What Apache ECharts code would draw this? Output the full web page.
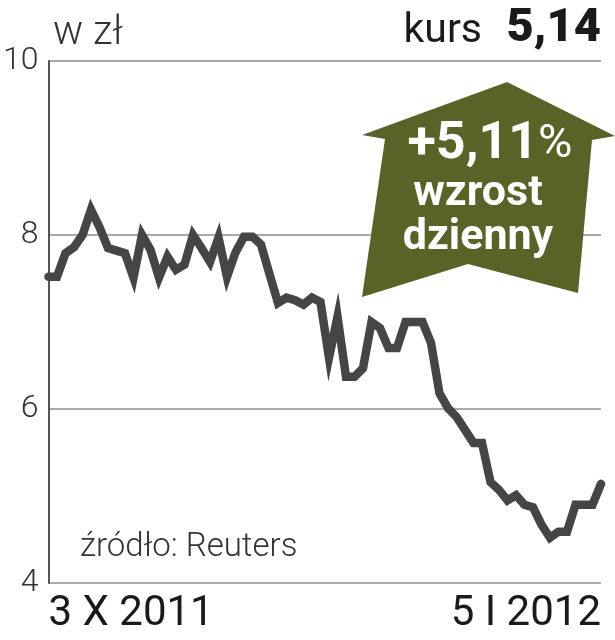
<!DOCTYPE html>
<html>
<head>
<meta charset="utf-8">
<script src="https://cdn.jsdelivr.net/npm/echarts@6/dist/echarts.min.js"></script>
<style>
  html, body { margin: 0; padding: 0; background: #fff; }
  #chart { width: 615px; height: 640px; }
</style>
</head>
<body>
<div id="chart"></div>
<script>
// kurs akcji, 3 X 2011 - 5 I 2012
const prices = [
  7.52, 7.52, 7.79, 7.86, 8.0, 8.29, 8.09, 7.85, 7.82, 7.79,
  7.51, 8.0, 7.83, 7.51, 7.75, 7.6, 7.66, 8.0, 7.85, 7.69,
  7.97, 7.52, 7.8, 7.98, 7.98, 7.89, 7.55, 7.22, 7.28, 7.25,
  7.2, 7.28, 7.23, 6.59, 7.06, 6.37, 6.37, 6.47, 7.0, 6.93,
  6.7, 6.7, 7.0, 7.0, 7.0, 6.76, 6.18, 6.01, 5.91, 5.76,
  5.61, 5.61, 5.16, 5.07, 4.95, 5.01, 4.9, 4.87, 4.67, 4.52,
  4.59, 4.59, 4.9, 4.9, 4.9, 5.14
];
const days = prices.map((v, i) => i);
const tickLabels = ["3 X 2011", "5 I 2012"];
const yTicks = { min: 4, max: 10, step: 2 };
const unitLabel = "w zł";
const lastPrice = "5,14";
const dailyChange = "+5,11";
const sourceLabel = "źródło: Reuters";

const chart = echarts.init(document.getElementById("chart"));

const option = {
  animation: false,
  grid: { left: 48, right: 14, top: 61, bottom: 57, containLabel: false },
  xAxis: {
    type: "category",
    data: days,
    boundaryGap: false,
    axisLine: { show: false },
    axisTick: { show: false },
    splitLine: { show: false },
    axisLabel: {
      interval: 0,
      margin: 10,
      color: "#1a1a1a",
      fontFamily: "Roboto",
      fontWeight: 400,
      fontSize: 42,
      alignMinLabel: "left",
      alignMaxLabel: "right",
      formatter: function (value, index) {
        if (index === 0) return tickLabels[0];
        if (index === days.length - 1) return tickLabels[1];
        return "";
      }
    }
  },
  yAxis: {
    type: "value",
    min: yTicks.min,
    max: yTicks.max,
    interval: yTicks.step,
    axisLine: { show: true, lineStyle: { color: "#555", width: 2 } },
    axisTick: { show: false },
    splitLine: { lineStyle: { color: "#aaa", width: 2 } },
    axisLabel: {
      margin: 10,
      color: "#333",
      fontFamily: "Roboto",
      fontWeight: 300,
      fontSize: 32
    }
  },
  series: [
    {
      type: "line",
      data: prices,
      showSymbol: false,
      lineStyle: { color: "#454545", width: 8.5, join: "miter", cap: "round" },
      z: 3
    }
  ],
  graphic: [
    {
      type: "text",
      left: 53,
      top: 14,
      style: {
        text: unitLabel,
        fill: "#333",
        font: "300 40px Roboto"
      }
    },
    {
      type: "text",
      x: 482,
      y: 52,
      style: {
        text: "kurs",
        align: "right",
        verticalAlign: "bottom",
        fill: "#1a1a1a",
        font: "400 41px Roboto"
      }
    },
    {
      type: "text",
      x: 601,
      y: 53,
      style: {
        text: lastPrice,
        align: "right",
        verticalAlign: "bottom",
        fill: "#1a1a1a",
        font: "900 47px Roboto"
      }
    },
    {
      type: "polygon",
      z: 10,
      shape: {
        points: [
          [507, 82], [615, 136], [592, 140], [578, 293], [468, 264],
          [362, 297], [385, 139], [362, 135]
        ]
      },
      style: { fill: "#5a6227" }
    },
    {
      type: "text",
      z: 11,
      x: 490,
      y: 145,
      style: {
        text: "{a|" + dailyChange + "}{b|%}",
        align: "center",
        verticalAlign: "middle",
        rich: {
          a: { fontFamily: "Roboto", fontSize: 52, fontWeight: 700, fill: "#fff" },
          b: { fontFamily: "Roboto", fontSize: 47, fontWeight: 400, fill: "#fff" }
        }
      }
    },
    {
      type: "text",
      z: 11,
      x: 478,
      y: 194,
      style: {
        text: "wzrost",
        align: "center",
        verticalAlign: "middle",
        fill: "#fff",
        font: "700 43px Roboto"
      }
    },
    {
      type: "text",
      z: 11,
      x: 478,
      y: 238,
      style: {
        text: "dzienny",
        align: "center",
        verticalAlign: "middle",
        fill: "#fff",
        font: "700 43px Roboto"
      }
    },
    {
      type: "text",
      left: 80,
      top: 531,
      style: {
        text: sourceLabel,
        fill: "#333",
        font: "300 33px Roboto"
      }
    }
  ]
};

chart.setOption(option);
</script>
</body>
</html>
